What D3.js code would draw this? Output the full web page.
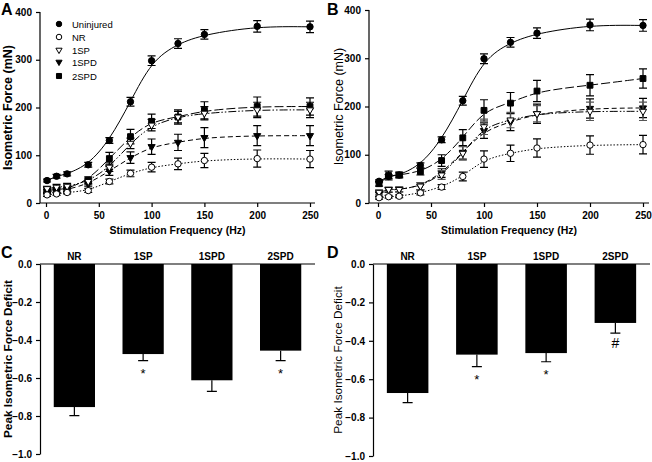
<!DOCTYPE html>
<html><head><meta charset="utf-8">
<script src="https://cdn.jsdelivr.net/npm/d3@7"></script>
<style>body{margin:0;background:#fff}svg{display:block}text{font-family:"Liberation Sans",Arial,sans-serif}</style>
</head><body><svg id="c" width="652" height="462"></svg>
<script>
const freqs = [1,10,20,40,60,80,100,125,150,200,250];
const groups = ["Uninjured","NR","1SP","1SPD","2SPD"];
const xTicks = [0,50,100,150,200,250];
const yTicks = [0,100,200,300,400];

// Panel A means and SEM
const aUninjured = [47,56,61,80,131,212,298,334,353,370,369];
const aNR        = [17,19,22,26,45,62,75,82,89,93,92];
const a1SP       = [30,33,35,45,75,125,163,180,188,195,195];
const a1SPD      = [24,26,28,40,67,95,118,127,137,141,141];
const a2SPD      = [27,28,30,48,93,139,171,180,194,202,202];
const aUninjuredErr = [3,4,4,5,6,9,10,10,10,12,12];
const aNRErr        = [3,3,3,4,5,7,10,12,15,18,18];
const a1SPErr       = [5,6,6,7,9,11,12,12,14,16,16];
const a1SPDErr      = [5,5,5,6,9,12,16,17,21,21,21];
const a2SPDErr      = [5,5,6,7,13,15,15,15,18,20,18];

// Panel B means and SEM
const bUninjured = [45,55,58,78,131,212,299,333,352,369,368];
const bNR        = [11,13,14,21,33,55,91,103,114,120,121];
const b1SP       = [22,28,28,35,58,103,158,172,185,190,190];
const b1SPD      = [18,27,28,35,62,105,150,168,185,196,197];
const b2SPD      = [40,57,58,65,88,135,192,207,232,244,258];
const bUninjuredErr = [3,4,4,5,6,9,10,10,11,12,12];
const bNRErr        = [3,3,3,4,5,9,17,17,19,19,19];
const b1SPErr       = [5,5,5,7,9,14,16,16,17,19,19];
const b1SPDErr      = [5,5,5,7,9,14,16,18,20,20,20];
const b2SPDErr      = [5,9,6,7,12,17,22,22,22,22,20];

// Panels C, D: peak isometric force deficit
const deficitCats = ["NR","1SP","1SPD","2SPD"];
const cDeficit = [-0.753,-0.474,-0.612,-0.456];
const cDeficitErr = [0.045,0.035,0.058,0.053];
const cMarks = ["","*","","*"];
const dDeficit = [-0.672,-0.472,-0.464,-0.307];
const dDeficitErr = [0.05,0.063,0.045,0.053];
const dMarks = ["","*","*","#"];
const deficitTicks = [0,-0.2,-0.4,-0.6,-0.8,-1.0];

const svg = d3.select("#c");
const styles = {
  "Uninjured":{sym:d3.symbolCircle,fill:"#000",dash:null,size:32},
  "NR":{sym:d3.symbolCircle,fill:"#fff",dash:"1.5,1.8",size:32},
  "1SP":{sym:d3.symbolTriangle,fill:"#fff",dash:"8,2,1.5,2,1.5,2",size:22,flip:true},
  "1SPD":{sym:d3.symbolTriangle,fill:"#000",dash:"5,3",size:22,flip:true},
  "2SPD":{sym:d3.symbolSquare,fill:"#000",dash:"9,3",size:34}
};

function linePanel(o){
  const g = svg.append("g");
  const x = d3.scaleLinear().domain([0,250]).range([o.x0,o.x1]);
  const y = d3.scaleLinear().domain([0,400]).range([o.y0,o.y1]);
  const ya = g.append("g").attr("transform",`translate(${o.ax},0)`)
    .call(d3.axisLeft(y).tickValues(yTicks).tickSize(4).tickSizeOuter(0));
  ya.select(".domain").attr("d",`M0,${o.y0}V${o.y1}`);
  const xa = g.append("g").attr("transform",`translate(0,${o.y0})`)
    .call(d3.axisBottom(x).tickValues(xTicks).tickSize(4).tickSizeOuter(0));
  xa.select(".domain").attr("d",`M${o.ax},0H${o.xEnd}`);
  [ya,xa].forEach(a=>{a.selectAll("text").attr("font-size",10).attr("font-weight","bold").attr("fill","#000");
    a.selectAll("line,path").attr("stroke","#000").attr("stroke-width",1.2);});
  ya.selectAll("text").attr("dx",-1);
  xa.selectAll("text").attr("dy","0.9em");
  g.append("text").attr("x",(o.ax+o.xEnd)/2).attr("y",o.y0+31).attr("text-anchor","middle")
    .attr("font-size",10.5).attr("font-weight","bold").text("Stimulation Frequency (Hz)");
  g.append("text").attr("transform",`translate(${o.titleX},${(o.y0+o.y1)/2}) rotate(-90)`)
    .attr("text-anchor","middle").attr("font-size",12.5).attr("font-weight",o.bold?"bold":"normal").text("Isometric Force (mN)");
  g.append("text").attr("x",o.letterX).attr("y",15).attr("font-size",16).attr("font-weight","bold").text(o.letter);
  const line = d3.line().x((d,i)=>x(freqs[i])).y(d=>y(d)).curve(d3.curveBasis);
  o.series.forEach(s=>{
    const st = styles[s.name];
    g.append("path").datum(s.v).attr("d",line).attr("fill","none").attr("stroke","#000")
      .attr("stroke-width",1).attr("stroke-dasharray",st.dash);
  });
  o.series.slice().reverse().forEach(s=>{
    const st = styles[s.name];
    s.v.forEach((v,i)=>{
      const cx = x(freqs[i]);
      const col = s.gray ? "#555" : "#000";
      g.append("path").attr("d",`M${cx},${y(v-s.e[i])}V${y(v+s.e[i])}M${cx-4},${y(v+s.e[i])}H${cx+4}M${cx-4},${y(v-s.e[i])}H${cx+4}`)
        .attr("stroke",col).attr("stroke-width",1.2).attr("fill","none");
    });
    s.v.forEach((v,i)=>{
      g.append("path").attr("d",d3.symbol(st.sym,st.size)())
        .attr("transform",`translate(${x(freqs[i])},${y(v)})${st.flip?" rotate(180)":""}`)
        .attr("fill",st.fill).attr("stroke","#000").attr("stroke-width",1);
    });
  });
  if(o.legend){
    groups.forEach((nm,i)=>{
      const st = styles[nm];
      const ly = [24,37,50,62,76][i];
      g.append("path").attr("d",d3.symbol(st.sym,st.size*0.75)())
        .attr("transform",`translate(59,${ly})${st.flip?" rotate(180)":""}`)
        .attr("fill",st.fill).attr("stroke","#000").attr("stroke-width",1);
      g.append("text").attr("x",72).attr("y",ly+3.5).attr("font-size",9.5).text(nm);
    });
  }
}

linePanel({x0:46,x1:310,ax:40,xEnd:315,y0:203,y1:12,titleX:12,letter:"A",letterX:1,bold:true,legend:true,
  series:[{name:"Uninjured",v:aUninjured,e:aUninjuredErr},{name:"NR",v:aNR,e:aNRErr},{name:"1SP",v:a1SP,e:a1SPErr},
          {name:"1SPD",v:a1SPD,e:a1SPDErr},{name:"2SPD",v:a2SPD,e:a2SPDErr}]});
linePanel({x0:378,x1:643,ax:369,xEnd:649,y0:203,y1:10,titleX:343,letter:"B",letterX:327,bold:false,legend:false,
  series:[{name:"Uninjured",v:bUninjured,e:bUninjuredErr},{name:"NR",v:bNR,e:bNRErr},{name:"1SP",v:b1SP,e:b1SPErr,gray:true},
          {name:"1SPD",v:b1SPD,e:b1SPDErr},{name:"2SPD",v:b2SPD,e:b2SPDErr}]});

function barPanel(o){
  const g = svg.append("g");
  const x = d3.scaleBand().domain(deficitCats).range([o.ax,o.xEnd]).paddingInner(0.4).paddingOuter(0.2);
  const y = d3.scaleLinear().domain([0,-1]).range([o.y0,o.y1]);
  const ya = g.append("g").attr("transform",`translate(${o.ax},0)`)
    .call(d3.axisLeft(y).tickValues(deficitTicks).tickFormat(d3.format(".1f")).tickSize(4).tickSizeOuter(0));
  ya.selectAll("text").attr("font-size",10).attr("font-weight","bold").attr("fill","#000").attr("dx",-1);
  ya.selectAll("line,path").attr("stroke","#000").attr("stroke-width",1.2);
  g.selectAll(".bar").data(o.v).join("rect")
    .attr("x",(d,i)=>x(deficitCats[i])).attr("width",x.bandwidth())
    .attr("y",o.y0).attr("height",d=>y(d)-o.y0).attr("fill","#000");
  o.v.forEach((v,i)=>{
    const cx = x(deficitCats[i])+x.bandwidth()/2;
    const yb = y(v-o.e[i]);
    g.append("path").attr("d",`M${cx},${y(v)}V${yb}M${cx-5},${yb}H${cx+5}`).attr("stroke","#000").attr("stroke-width",1.2);
    if(o.marks[i]) g.append("text").attr("x",cx).attr("y",yb+(o.marks[i]==="#"?15:17)).attr("text-anchor","middle")
      .attr("font-size",o.marks[i]==="#"?14:13).text(o.marks[i]);
    g.append("text").attr("x",cx).attr("y",o.y0-4).attr("text-anchor","middle").attr("font-size",10)
      .attr("font-weight","bold").text(deficitCats[i]);
  });
  g.append("path").attr("d",`M${o.ax},${o.y0}H${o.xEnd}`).attr("stroke","#000").attr("stroke-width",1.2);
  g.append("text").attr("transform",`translate(${o.titleX},${(o.y0+o.y1)/2}) rotate(-90)`)
    .attr("text-anchor","middle").attr("font-size",11.8).attr("font-weight",o.bold?"bold":"normal").text("Peak Isometric Force Deficit");
  g.append("text").attr("x",o.letterX).attr("y",258).attr("font-size",16).attr("font-weight","bold").text(o.letter);
}
barPanel({ax:40,xEnd:315,y0:264,y1:454,v:cDeficit,e:cDeficitErr,marks:cMarks,titleX:12,letter:"C",letterX:1,bold:true});
barPanel({ax:373,xEnd:650,y0:264,y1:456,v:dDeficit,e:dDeficitErr,marks:dMarks,titleX:342,letter:"D",letterX:327,bold:false});
</script></body></html>
